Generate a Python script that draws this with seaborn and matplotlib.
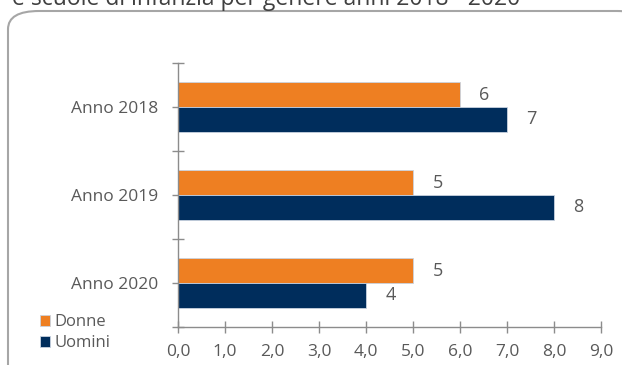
import pandas as pd
import matplotlib.pyplot as plt
import seaborn as sns
from matplotlib.patches import FancyBboxPatch
from matplotlib.ticker import FuncFormatter, FixedLocator

# data
anni = ['Anno 2018', 'Anno 2019', 'Anno 2020']
donne = [6, 5, 5]
uomini = [7, 8, 4]
generi = ['Donne', 'Uomini']
colori = {'Donne': '#EE7F22', 'Uomini': '#002D5C'}

df = pd.DataFrame({
    'anno': anni * 2,
    'genere': ['Donne'] * 3 + ['Uomini'] * 3,
    'valore': donne + uomini,
})

sns.set_style('white')
plt.rcParams['font.family'] = ['Open Sans', 'DejaVu Sans']
grey = '#595959'

fig = plt.figure(figsize=(6.22, 3.65), dpi=100)
fig.patch.set_facecolor('white')

# rounded frame of the chart area (right/bottom edges cut off)
frame = FancyBboxPatch((8 / 622, -0.2), 640 / 622, 1.2 - 11 / 365,
                       boxstyle='round,pad=0,rounding_size=0.05',
                       transform=fig.transFigure, facecolor='white',
                       edgecolor='#A6A6A6', linewidth=1.5, zorder=-5)
fig.patches.append(frame)

# cut-off title at the very top
fig.text(12 / 622, 1 - 5 / 365, 'e scuole di infanzia per genere anni 2018 - 2020',
         fontsize=16.5, color='#404040', va='baseline', ha='left')

ax = fig.add_axes([178 / 622, 1 - 327 / 365, 423 / 622, 264 / 365])
ax.set_facecolor('none')
ax.set_zorder(2)

sns.barplot(data=df, y='anno', x='valore', hue='genere', order=anni,
            hue_order=generi, palette=colori, orient='h', width=0.56,
            saturation=1, ax=ax, legend=True, linewidth=0.6, edgecolor='#C9D3E0')

for cont in ax.containers:
    ax.bar_label(cont, fmt='%d', padding=14, color=grey, fontsize=13)

ax.set_xlim(0, 9)
ax.set_ylim(2.5, -0.5)
ax.set_xlabel('')
ax.set_ylabel('')
ax.set_xticks(range(10))
ax.xaxis.set_major_formatter(FuncFormatter(lambda v, p: f'{v:.1f}'.replace('.', ',')))
ax.tick_params(axis='x', direction='inout', length=9, width=1, color='#8C8C8C',
               labelcolor=grey, labelsize=12.5, pad=8, bottom=True)

ax.yaxis.set_major_locator(FixedLocator([-0.5, 0.5, 1.5, 2.5]))
ax.yaxis.set_minor_locator(FixedLocator([0, 1, 2]))
ax.set_yticklabels([], minor=False)
ax.set_yticklabels(anni, minor=True)
ax.tick_params(axis='y', which='major', direction='inout', length=9, width=1,
               color='#8C8C8C', left=True)
ax.tick_params(axis='y', which='minor', direction='out', length=4, width=1,
               color='#8C8C8C', labelcolor=grey, labelsize=12.5, pad=10, left=True)

for s in ['top', 'right']:
    ax.spines[s].set_visible(False)
for s in ['left', 'bottom']:
    ax.spines[s].set_color('#8C8C8C')
    ax.spines[s].set_linewidth(1)

leg = ax.legend(loc='lower left', bbox_to_anchor=(33 / 622, 7 / 365),
                bbox_transform=fig.transFigure, frameon=False, fontsize=12,
                handlelength=0.6, handleheight=0.7, handletextpad=0.3,
                labelspacing=0.3, borderaxespad=0)
for t in leg.get_texts():
    t.set_color(grey)

fig.savefig('out.png', dpi=100, facecolor='white')
